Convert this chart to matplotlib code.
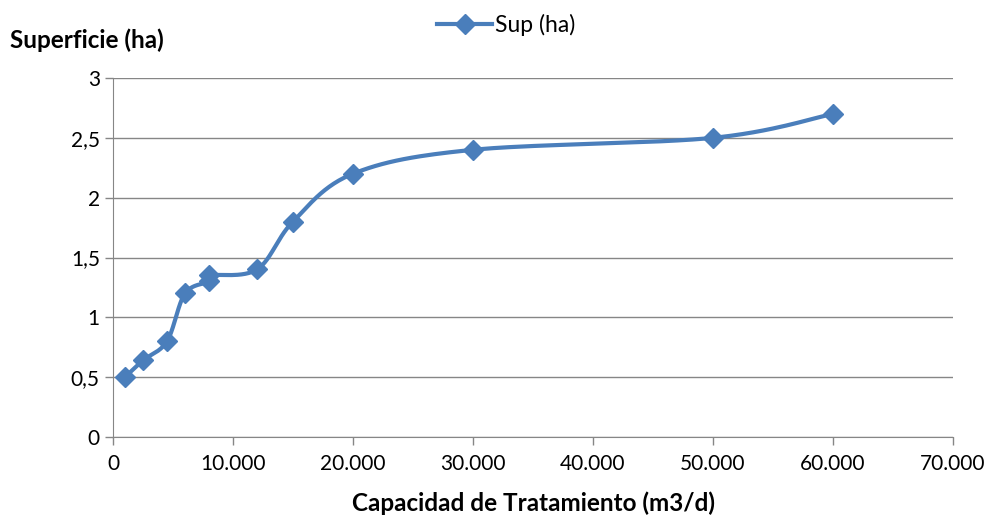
import numpy as np
import matplotlib
matplotlib.use("Agg")
import matplotlib.pyplot as plt
from matplotlib.ticker import FuncFormatter, MultipleLocator

plt.rcParams['font.family'] = ['Lato', 'DejaVu Sans']

# datos
capacidad = [1000, 2500, 4500, 6000, 8000, 8000, 12000, 15000, 20000, 30000, 50000, 60000]
superficie = [0.5, 0.64, 0.8, 1.2, 1.3, 1.35, 1.4, 1.8, 2.2, 2.4, 2.5, 2.7]

color = '#4a7ebb'
gris = '#868686'

fig = plt.figure(figsize=(9.94, 5.23), dpi=100)
ax = fig.add_axes([113/994, 1-437/523, 840/994, 359/523])

# línea suavizada tipo Excel (Catmull-Rom en coordenadas de pantalla)
def suavizar(xs, ys, sx, sy, n=30):
    p = np.column_stack([np.array(xs) * sx, np.array(ys) * sy])
    out = []
    for i in range(len(p) - 1):
        p0 = p[i - 1] if i > 0 else p[i]
        p1, p2 = p[i], p[i + 1]
        p3 = p[i + 2] if i + 2 < len(p) else p[i + 1]
        c1 = p1 + (p2 - p0) / 6
        c2 = p2 - (p3 - p1) / 6
        t = np.linspace(0, 1, n)[:, None]
        seg = (1-t)**3*p1 + 3*(1-t)**2*t*c1 + 3*(1-t)*t**2*c2 + t**3*p2
        out.append(seg)
    out = np.vstack(out)
    return out[:, 0] / sx, out[:, 1] / sy

sx_, sy_ = suavizar(capacidad, superficie, 840/70000, 359/3)
ax.plot(sx_, sy_, color=color, lw=3, solid_capstyle='round', zorder=3)
ax.plot(capacidad, superficie, ls='none', marker='D', ms=10, color=color, zorder=4)
ax.plot([], [], color=color, lw=3, marker='D', ms=10, label='Sup (ha)')

ax.set_xlim(0, 70000)
ax.set_ylim(0, 3)
ax.xaxis.set_major_locator(MultipleLocator(10000))
ax.yaxis.set_major_locator(MultipleLocator(0.5))
ax.xaxis.set_major_formatter(FuncFormatter(lambda v, p: f"{int(v):,}".replace(",", ".")))
ax.yaxis.set_major_formatter(FuncFormatter(lambda v, p: f"{v:g}".replace(".", ",")))

ax.grid(axis='y', color=gris, lw=1)
ax.set_axisbelow(True)
for s in ['top', 'right']:
    ax.spines[s].set_visible(False)
for s in ['left', 'bottom']:
    ax.spines[s].set_color(gris)
ax.tick_params(colors=gris, labelcolor='black', labelsize=15, length=6, width=1)
ax.tick_params(axis='x', pad=6)

fig.text(10/994, 1-40/523, 'Superficie (ha)', fontsize=17.5, fontweight='bold', va='center', ha='left')
fig.text(533/994, 1-503/523, 'Capacidad de Tratamiento (m3/d)', fontsize=17.5, fontweight='bold', va='center', ha='center')

fig.legend(loc='center', bbox_to_anchor=(506/994, 1-25/523), frameon=False, fontsize=16.5,
           handlelength=2.4, handletextpad=0.1)

fig.savefig('out.png', dpi=100)
